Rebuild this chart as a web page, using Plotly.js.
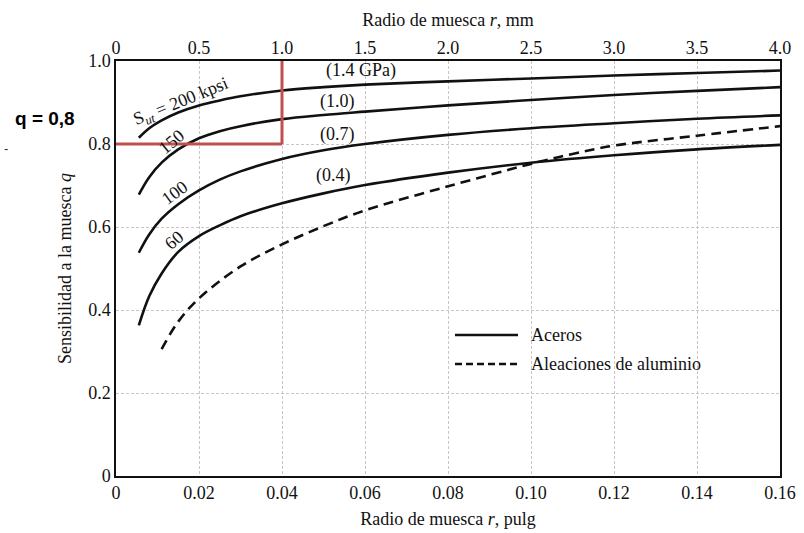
<!DOCTYPE html>
<html>
<head>
<meta charset="utf-8">
<script src="https://cdn.plot.ly/plotly-3.0.1.min.js"></script>
<style>
  html, body { margin: 0; padding: 0; background: #ffffff; }
  #chart { width: 804px; height: 533px; }
</style>
</head>
<body>
<div id="chart"></div>
<script>
// ---- Data (notch radius r in inches, notch sensitivity q) ----
const rSteel = [0.0055, 0.008, 0.011, 0.015, 0.02, 0.025, 0.03, 0.04, 0.05, 0.06, 0.08, 0.10, 0.12, 0.14, 0.16];
const qSteel200 = [0.815, 0.838, 0.857, 0.876, 0.893, 0.905, 0.915, 0.929, 0.937, 0.943, 0.951, 0.958, 0.965, 0.971, 0.977];
const qSteel150 = [0.678, 0.720, 0.755, 0.787, 0.814, 0.831, 0.843, 0.860, 0.870, 0.878, 0.893, 0.906, 0.918, 0.928, 0.937];
const qSteel100 = [0.538, 0.582, 0.620, 0.655, 0.688, 0.714, 0.734, 0.764, 0.785, 0.800, 0.822, 0.838, 0.850, 0.861, 0.869];
const qSteel60  = [0.363, 0.433, 0.488, 0.540, 0.578, 0.604, 0.626, 0.657, 0.681, 0.701, 0.731, 0.755, 0.773, 0.787, 0.798];

const rAlum = [0.011, 0.015, 0.02, 0.03, 0.04, 0.05, 0.06, 0.08, 0.10, 0.11, 0.12, 0.14, 0.16];
const qAlum = [0.306, 0.372, 0.428, 0.505, 0.558, 0.602, 0.640, 0.698, 0.752, 0.776, 0.796, 0.820, 0.843];

// Axis ticks
const xTickVals = [0, 0.02, 0.04, 0.06, 0.08, 0.10, 0.12, 0.14, 0.16];
const xTickText = ["0", "0.02", "0.04", "0.06", "0.08", "0.10", "0.12", "0.14", "0.16"];
const mmTickVals = [0, 0.5, 1.0, 1.5, 2.0, 2.5, 3.0, 3.5, 4.0];
const mmTickText = ["0", "0.5", "1.0", "1.5", "2.0", "2.5", "3.0", "3.5", "4.0"];
const yTickVals = [0, 0.2, 0.4, 0.6, 0.8, 1.0];
const yTickText = ["0", "0.2", "0.4", "0.6", "0.8", "1.0"];

// Curve labels
const kpsiLabels = ["S<sub><i>ut</i></sub> = 200 kpsi", "150", "100", "60"];
const kpsiX = [0.0156, 0.0133, 0.0140, 0.0140];
const kpsiY = [0.900, 0.805, 0.683, 0.569];
const kpsiAngle = [-22, -40, -36, -40];
const gpaLabels = ["(1.4 GPa)", "(1.0)", "(0.7)", "(0.4)"];
const gpaX = [0.059, 0.0533, 0.0533, 0.0525];
const gpaY = [0.976, 0.903, 0.822, 0.723];

// Legend entries
const legendNames = ["Aceros", "Aleaciones de aluminio"];
const legendDash = ["solid", "7px,4px"];

// Reading marker
const markR = 0.04;
const markQ = 0.8;

const FONT = "Liberation Serif, Times New Roman, serif";
const steelSets = [qSteel200, qSteel150, qSteel100, qSteel60];

const traces = steelSets.map((q) => ({
  type: "scatter", mode: "lines",
  x: rSteel, y: q,
  line: { color: "#111111", width: 2.6, shape: "spline", smoothing: 1.0 },
  name: legendNames[0],
  showlegend: false,
  hoverinfo: "skip"
}));
traces.push({
  type: "scatter", mode: "lines",
  x: rAlum, y: qAlum,
  line: { color: "#111111", width: 2.6, dash: "10px,6px", shape: "spline", smoothing: 1.0 },
  name: legendNames[1],
  showlegend: false,
  hoverinfo: "skip"
});
// carrier for the top millimetre axis (no visible marks)
traces.push({
  type: "scatter", mode: "lines", x: mmTickVals, y: mmTickVals.map(() => null),
  xaxis: "x2", yaxis: "y", showlegend: false, hoverinfo: "skip",
  line: { color: "rgba(0,0,0,0)" }
});

const L = 116, R = 24, T = 61, B = 57, W = 804, H = 533;
const px2paperX = (px) => (px - L) / (W - L - R);
const px2paperY = (py) => 1 - (py - T) / (H - T - B);

const annotations = [];
kpsiLabels.forEach((t, i) => annotations.push({
  x: kpsiX[i], y: kpsiY[i], xref: "x", yref: "y", text: t, showarrow: false,
  textangle: kpsiAngle[i], font: { family: FONT, size: 18, color: "#111" }
}));
gpaLabels.forEach((t, i) => annotations.push({
  x: gpaX[i], y: gpaY[i], xref: "x", yref: "y", text: t, showarrow: false,
  font: { family: FONT, size: 18, color: "#111" }
}));
annotations.push({
  x: px2paperX(45), y: px2paperY(118), xref: "paper", yref: "paper",
  xanchor: "center", yanchor: "middle",
  text: "<b>q = 0,8</b>", showarrow: false,
  font: { family: "Liberation Sans, Arial, sans-serif", size: 19, color: "#000" }
});
annotations.push({
  x: px2paperX(6), y: px2paperY(148), xref: "paper", yref: "paper",
  xanchor: "center", yanchor: "middle",
  text: "-", showarrow: false,
  font: { family: "Liberation Sans, Arial, sans-serif", size: 13, color: "#333" }
});

// manual legend (line samples + labels)
const legRowsY = [335, 364];
const shapes = [
  { type: "line", xref: "x", yref: "y", x0: 0, x1: markR, y0: markQ, y1: markQ,
    line: { color: "#c0504d", width: 3 } },
  { type: "line", xref: "x", yref: "y", x0: markR, x1: markR, y0: markQ, y1: 1.0,
    line: { color: "#c0504d", width: 3 } }
];
legendNames.forEach((name, i) => {
  shapes.push({
    type: "line", xref: "paper", yref: "paper",
    x0: px2paperX(455), x1: px2paperX(518), y0: px2paperY(legRowsY[i]), y1: px2paperY(legRowsY[i]),
    line: { color: "#111", width: 2.6, dash: legendDash[i] }
  });
  annotations.push({
    x: px2paperX(529), y: px2paperY(legRowsY[i]), xref: "paper", yref: "paper",
    xanchor: "left", yanchor: "middle", text: name, showarrow: false,
    font: { family: FONT, size: 18, color: "#111" }
  });
});

const gridStyle = { showgrid: true, gridcolor: "#cfc3c3", gridwidth: 1, griddash: "3px,2px" };

const layout = {
  width: W, height: H,
  margin: { l: L, r: R, t: T, b: B },
  paper_bgcolor: "#ffffff", plot_bgcolor: "#ffffff",
  font: { family: FONT, size: 18, color: "#111" },
  showlegend: false,
  xaxis: Object.assign({
    range: [0, 0.16], tickvals: xTickVals, ticktext: xTickText,
    showline: true, linecolor: "#111", linewidth: 1.6, mirror: true,
    ticks: "", zeroline: false,
    tickfont: { family: FONT, size: 18, color: "#111" },
    title: { text: "Radio de muesca <i>r</i>, pulg", font: { family: FONT, size: 18 }, standoff: 10 }
  }, gridStyle),
  xaxis2: {
    overlaying: "x", side: "top", anchor: "y",
    range: [0, 4], tickvals: mmTickVals, ticktext: mmTickText,
    showgrid: false, showline: false, ticks: "", zeroline: false,
    ticklabelstandoff: 2,
    tickfont: { family: FONT, size: 18, color: "#111" },
    title: { text: "Radio de muesca <i>r</i>, mm", font: { family: FONT, size: 18 }, standoff: 7 }
  },
  yaxis: Object.assign({
    range: [0, 1], tickvals: yTickVals, ticktext: yTickText,
    showline: true, linecolor: "#111", linewidth: 1.6, mirror: true,
    ticks: "", zeroline: false,
    tickfont: { family: FONT, size: 18, color: "#111" },
    title: { text: "Sensibilidad a la muesca <i>q</i>", font: { family: FONT, size: 18 }, standoff: 12 }
  }, gridStyle),
  shapes: shapes,
  annotations: annotations
};

Plotly.newPlot("chart", traces, layout, { displayModeBar: false, staticPlot: true });
</script>
</body>
</html>
